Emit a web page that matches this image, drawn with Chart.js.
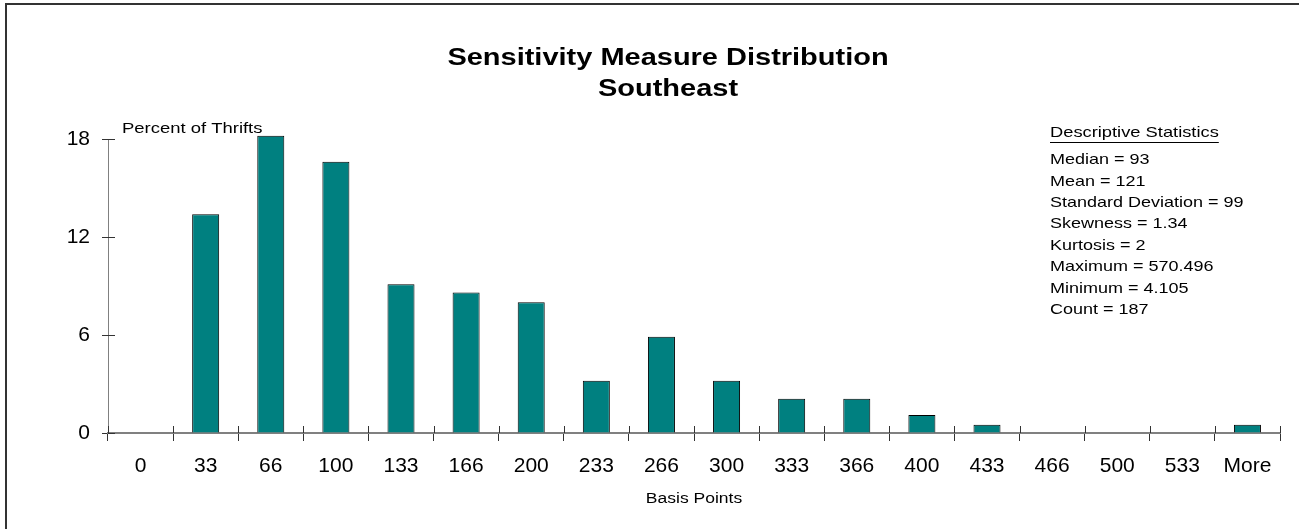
<!DOCTYPE html>
<html>
<head>
<meta charset="utf-8">
<script src="https://cdn.jsdelivr.net/npm/chart.js@4.4.1/dist/chart.umd.min.js"></script>
<style>
html,body{margin:0;padding:0;background:#fff;overflow:hidden;}
#wrap{position:relative;width:1299px;height:529px;overflow:hidden;}
#frame{position:absolute;left:5px;top:3px;width:1400px;height:600px;border-left:2px solid #333;border-top:2px solid #333;pointer-events:none;}
canvas{position:absolute;left:0;top:0;}
</style>
</head>
<body>
<div id="wrap"><canvas id="c" width="1299" height="529"></canvas><div id="frame"></div></div>
<script>
// ---- data ----
const categories = ['0','33','66','100','133','166','200','233','266','300','333','366','400','433','466','500','533','More'];
const percentOfThrifts = [0, 13.4, 18.2, 16.6, 9.1, 8.6, 8.0, 3.2, 5.9, 3.2, 2.1, 2.1, 1.1, 0.5, 0, 0, 0, 0.5];
const yTickValues = [0, 6, 12, 18];
const titleLines = ['Sensitivity Measure Distribution', 'Southeast'];
const yAxisTitle = 'Percent of Thrifts';
const xAxisTitle = 'Basis Points';
const statsHeader = 'Descriptive Statistics';
const statsLines = [
  'Median = 93',
  'Mean = 121',
  'Standard Deviation = 99',
  'Skewness = 1.34',
  'Kurtosis = 2',
  'Maximum = 570.496',
  'Minimum = 4.105',
  'Count = 187'
];

const FONT = '"Liberation Sans", Arial, Helvetica, sans-serif';

function stretchedText(ctx, text, x, y, font, align, sx) {
  ctx.save();
  ctx.font = font;
  ctx.fillStyle = '#000';
  ctx.textBaseline = 'middle';
  ctx.textAlign = 'left';
  const w = ctx.measureText(text).width * sx;
  const left = align === 'center' ? x - w / 2 : (align === 'right' ? x - w : x);
  ctx.translate(left, y);
  ctx.scale(sx, 1);
  ctx.fillText(text, 0, 0);
  ctx.restore();
  return {left: left, width: w};
}

const decorations = {
  id: 'decorations',
  afterDraw(chart) {
    const ctx = chart.ctx;
    const area = chart.chartArea;
    const xs = chart.scales.x;
    const ys = chart.scales.y;

    // inner halves of the crossing tick marks
    ctx.save();
    ctx.strokeStyle = '#333';
    ctx.lineWidth = 1;
    ctx.beginPath();
    const n = categories.length;
    for (let i = 0; i <= n; i++) {
      const x = Math.round(xs.left + i * xs.width / n) + 0.5;
      ctx.moveTo(x, xs.top - 7);
      ctx.lineTo(x, xs.top);
    }
    yTickValues.forEach(v => {
      const y = Math.round(ys.getPixelForValue(v)) + 0.5;
      ctx.moveTo(ys.right, y);
      ctx.lineTo(ys.right + 7, y);
    });
    ctx.stroke();
    ctx.restore();

    // title
    const cx = 668;
    stretchedText(ctx, titleLines[0], cx, 59, 'bold 23px ' + FONT, 'center', 1.26);
    stretchedText(ctx, titleLines[1], cx, 90, 'bold 23px ' + FONT, 'center', 1.26);

    // axis titles
    stretchedText(ctx, yAxisTitle, area.left + 14, area.top - 10, '15px ' + FONT, 'left', 1.23);
    stretchedText(ctx, xAxisTitle, (area.left + area.right) / 2, 499, '14px ' + FONT, 'center', 1.25);

    // descriptive statistics
    const sx0 = 1050;
    const h = stretchedText(ctx, statsHeader, sx0, 133, '15px ' + FONT, 'left', 1.22);
    ctx.save();
    ctx.strokeStyle = '#000';
    ctx.lineWidth = 1;
    ctx.beginPath();
    ctx.moveTo(h.left, 142.5);
    ctx.lineTo(h.left + h.width, 142.5);
    ctx.stroke();
    ctx.restore();
    statsLines.forEach((t, i) => {
      stretchedText(ctx, t, sx0, 160 + i * 21.4, '15px ' + FONT, 'left', 1.2);
    });
  }
};

new Chart(document.getElementById('c'), {
  type: 'bar',
  data: {
    labels: categories,
    datasets: [{
      data: percentOfThrifts,
      backgroundColor: '#008080',
      borderColor: '#000',
      borderWidth: 1,
      barPercentage: 0.415,
      categoryPercentage: 1,
      clip: false
    }]
  },
  options: {
    responsive: false,
    animation: false,
    devicePixelRatio: 1,
    layout: {padding: {top: 139, right: 19, left: 0, bottom: 0}},
    plugins: {legend: {display: false}, tooltip: {enabled: false}, title: {display: false}},
    scales: {
      x: {
        offset: true,
        grid: {display: true, drawOnChartArea: false, drawTicks: true, tickLength: 8, color: '#333', offset: true},
        border: {display: true, color: '#808080', width: 2},
        ticks: {color: '#000', font: {family: FONT, size: 21}, padding: 13, maxRotation: 0, autoSkip: false},
        afterFit(s) { s.height = 96; }
      },
      y: {
        min: 0, max: 18,
        afterBuildTicks(s) { s.ticks = yTickValues.map(v => ({value: v})); },
        grid: {display: true, drawOnChartArea: false, drawTicks: true, tickLength: 6, color: '#333'},
        border: {display: true, color: '#808080', width: 1},
        ticks: {color: '#000', font: {family: FONT, size: 21}, padding: 12},
        afterFit(s) { s.width = 108; }
      }
    }
  },
  plugins: [decorations]
});
</script>
</body>
</html>
